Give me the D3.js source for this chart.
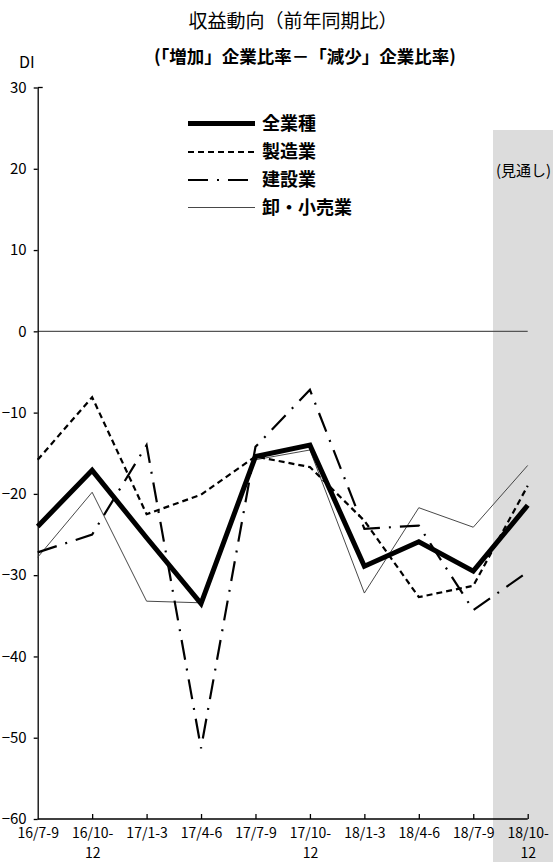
<!DOCTYPE html>
<html lang="ja">
<head>
<meta charset="UTF-8" />
<title>収益動向(前年同期比)</title>
<script src="https://d3js.org/d3.v7.min.js"></script>
<style>
  body { margin: 0; background: #fff; }
  svg { display: block; font-family: "Noto Sans CJK JP", sans-serif; }
  .axis path, .axis line { stroke: #000; stroke-width: 1.3px; }
  .axis text { font-family: "Noto Sans CJK JP", sans-serif; font-size: 15px; fill: #000; }
  .x-axis text { font-size: 14px; }
</style>
</head>
<body>
<svg width="553" height="862"></svg>
<script>
const categories = ["16/7-9", "16/10-12", "17/1-3", "17/4-6", "17/7-9", "17/10-12", "18/1-3", "18/4-6", "18/7-9", "18/10-12"];
const allIndustries = [-24.0, -17.1, -25.4, -33.5, -15.4, -14.0, -28.9, -25.9, -29.5, -21.4];
const manufacturing = [-15.8, -8.1, -22.5, -20.1, -15.4, -16.7, -23.3, -32.7, -31.3, -19.0];
const construction = [-27.2, -25.0, -14.0, -51.3, -14.2, -7.2, -24.3, -23.9, -34.3, -29.6];
const retail = [-27.8, -19.8, -33.2, -33.4, -15.8, -14.6, -32.2, -21.7, -24.1, -16.5];
const yTicks = [30, 20, 10, 0, -10, -20, -30, -40, -50, -60];

const series = [
  { name: "全業種", values: allIndustries, width: 5, dash: null, color: "#000" },
  { name: "製造業", values: manufacturing, width: 2.2, dash: "6,4", color: "#000" },
  { name: "建設業", values: construction, width: 2.2, dash: "20,9,2,9", color: "#000" },
  { name: "卸・小売業", values: retail, width: 0.9, dash: null, color: "#333" }
];

const svg = d3.select("svg");

const x = d3.scalePoint().domain(categories).range([37.7, 527.7]);
const y = d3.scaleLinear().domain([-60, 30]).range([819, 87.5]);

// 見通し shading
svg.append("rect")
  .attr("x", 493).attr("y", 130)
  .attr("width", 60).attr("height", 732)
  .attr("fill", "#dcdcdc");

svg.append("text")
  .attr("x", 496).attr("y", 176)
  .attr("font-size", 15)
  .text("(見通し)");

// titles
svg.append("text")
  .attr("x", 293).attr("y", 28)
  .attr("text-anchor", "middle")
  .attr("font-size", 19)
  .text("収益動向（前年同期比）");

svg.append("text")
  .attr("x", 305).attr("y", 63)
  .attr("text-anchor", "middle")
  .attr("font-size", 17.5)
  .attr("font-weight", "bold")
  .text("(「増加」企業比率－「減少」企業比率)");

svg.append("text")
  .attr("x", 19).attr("y", 68)
  .attr("font-size", 16)
  .text("DI");

// zero line
svg.append("line")
  .attr("x1", x.range()[0]).attr("x2", x.range()[1])
  .attr("y1", y(0)).attr("y2", y(0))
  .attr("stroke", "#555").attr("stroke-width", 1.3);

// y axis
const yAxis = svg.append("g")
  .attr("class", "axis")
  .attr("transform", `translate(${x.range()[0]},0)`)
  .call(d3.axisLeft(y).tickValues(yTicks).tickSize(4).tickSizeOuter(0));
yAxis.attr("font-family", null).attr("font-size", null);
yAxis.selectAll("text").attr("x", -11);
yAxis.append("line")
  .attr("x1", 0).attr("x2", 5)
  .attr("y1", y(30)).attr("y2", y(30));

// x axis
const xAxis = svg.append("g")
  .attr("class", "axis x-axis")
  .attr("transform", `translate(0,${y(-60)})`)
  .call(d3.axisBottom(x).tickSize(-5).tickSizeOuter(0).tickPadding(0));
xAxis.attr("font-family", null).attr("font-size", null);
xAxis.select(".domain").attr("d", `M${x.range()[0]},0H${x.range()[1]}`);
xAxis.selectAll(".tick line").filter((d, i) => i === 0).remove();
xAxis.selectAll(".tick text").each(function (d) {
  const t = d3.select(this).text(null).attr("y", 0).attr("dy", null);
  const parts = d.endsWith("-12") ? [d.slice(0, -2), "12"] : [d];
  parts.forEach((p, i) => {
    t.append("tspan").attr("x", 0).attr("y", 19 + i * 20).text(p);
  });
});

// lines
const line = d3.line().x((d, i) => x(categories[i])).y(d => y(d));
svg.append("g").selectAll("path")
  .data(series.slice().reverse())
  .join("path")
  .attr("d", d => line(d.values))
  .attr("fill", "none")
  .attr("stroke", d => d.color)
  .attr("stroke-width", d => d.width)
  .attr("stroke-dasharray", d => d.dash)
  .attr("stroke-linejoin", "miter");

// legend
const legend = svg.append("g").selectAll("g")
  .data(series)
  .join("g")
  .attr("transform", (d, i) => `translate(188,${[123.5, 152, 180, 207.5][i]})`);
legend.append("line")
  .attr("x1", 0).attr("x2", 67)
  .attr("stroke", d => d.color)
  .attr("stroke-width", d => d.width)
  .attr("stroke-dasharray", d => d.dash);
legend.append("text")
  .attr("x", 74).attr("dy", "0.35em")
  .attr("font-size", 18)
  .attr("font-weight", "bold")
  .text(d => d.name);
</script>
</body>
</html>
